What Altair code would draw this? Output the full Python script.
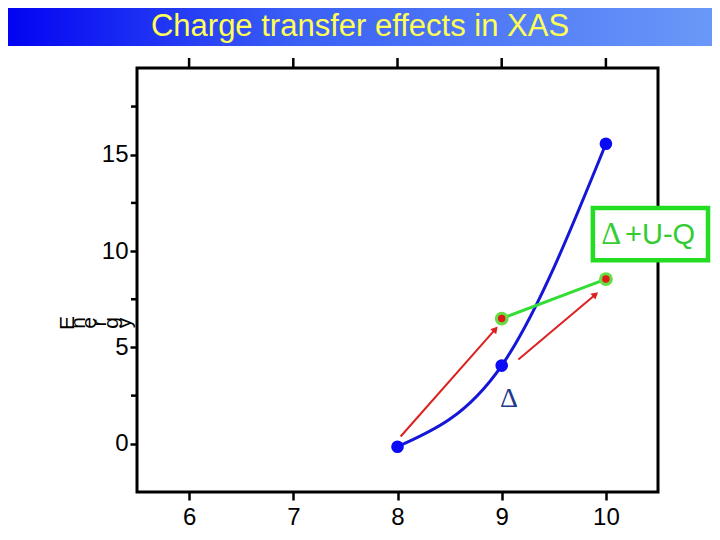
import altair as alt
import pandas as pd

# ---- data ----
blue_x = [8, 9, 10]
blue_y = [-0.15, 4.06, 15.57]

green_x = [9, 10]
green_y = [6.5, 8.55]

arrow_x1 = [8.03, 9.16]
arrow_y1 = [0.38, 4.38]
arrow_x2 = [8.94, 9.90]
arrow_y2 = [5.95, 7.75]
arrow_angle = [41, 50]

x_ticks = [6, 7, 8, 9, 10]
y_ticks = [0, 5, 10, 15]
y_minor = [2.5, 7.5, 12.5, 17.5]

box_x = [9.875]
box_x2 = [10.98]
box_y = [12.24]
box_y2 = [9.53]
box_delta = ["\u0394"]
box_delta_x = [10.05]
box_label = ["+U-Q"]
box_text_x = [10.52]
box_text_y = [10.85]

delta_x = [9.07]
delta_y = [2.3]
delta_label = ["\u0394"]

title_text = "Charge transfer effects in XAS"
ylabel_letters = ["E", "n", "e", "r", "g", "y"]
ylabel_px = [-69, -58, -47, -37, -25, -12]

W, H = 521, 424
XDOM = [5.5, 10.5]
YDOM = [-2.5, 19.5]
FONT = "Liberation Sans"
SERIF = "Liberation Serif"

blue_df = pd.DataFrame({"x": blue_x, "y": blue_y})
green_df = pd.DataFrame({"x": green_x, "y": green_y})
arrow_df = pd.DataFrame({"x1": arrow_x1, "y1": arrow_y1, "x2": arrow_x2,
                         "y2": arrow_y2, "ang": arrow_angle})
box_df = pd.DataFrame({"x": box_x, "x2": box_x2, "y": box_y, "y2": box_y2,
                       "tx": box_text_x, "ty": box_text_y, "t": box_label,
                       "dx": box_delta_x, "d": box_delta})
delta_df = pd.DataFrame({"x": delta_x, "y": delta_y, "t": delta_label})
xt_df = pd.DataFrame({"x": x_ticks})
ym_df = pd.DataFrame({"y": y_minor})
one = pd.DataFrame({"a": [0]})

xs = alt.Scale(domain=XDOM, nice=False, zero=False)
ys = alt.Scale(domain=YDOM, nice=False, zero=False)

x_axis = alt.Axis(values=x_ticks, format="d", title=None, grid=False, domain=False,
                  tickSize=8, tickWidth=2.5, tickColor="black",
                  labelFontSize=24, labelFont=FONT, labelColor="black",
                  labelPadding=5)
y_axis = alt.Axis(values=y_ticks, format="d", title=None, grid=False, domain=False,
                  tickSize=7, tickWidth=2.5, tickColor="black",
                  labelFontSize=24, labelFont=FONT, labelColor="black",
                  labelPadding=2)

base = alt.Chart(blue_df)

blue_line = base.mark_line(color="#1616d8", strokeWidth=3,
                           interpolate="monotone").encode(
    x=alt.X("x:Q", scale=xs, axis=x_axis),
    y=alt.Y("y:Q", scale=ys, axis=y_axis),
)
blue_pts = base.mark_circle(color="#0a0af5", size=160, opacity=1).encode(
    x="x:Q", y="y:Q")

green_line = alt.Chart(green_df).mark_line(color="#33dd33", strokeWidth=3).encode(
    x="x:Q", y="y:Q")
green_outer = alt.Chart(green_df).mark_circle(color="#66dd44", size=190,
                                              opacity=1).encode(x="x:Q", y="y:Q")
green_inner = alt.Chart(green_df).mark_circle(color="#e01818", size=55,
                                              opacity=1).encode(x="x:Q", y="y:Q")

arrow_lines = alt.Chart(arrow_df).mark_rule(color="#dd2020", strokeWidth=2).encode(
    x="x1:Q", y="y1:Q", x2="x2:Q", y2="y2:Q")
arrow_heads = alt.Chart(arrow_df).mark_point(shape="triangle-up", filled=True,
                                             color="#dd2020", size=60,
                                             opacity=1).encode(
    x=alt.X("x2:Q"), y=alt.Y("y2:Q"), angle=alt.Angle("ang:Q", scale=None))

top_ticks = alt.Chart(xt_df).mark_rule(color="black", strokeWidth=2.5).encode(
    x="x:Q", y=alt.value(-10), y2=alt.value(0))
left_minor = alt.Chart(ym_df).mark_rule(color="black", strokeWidth=2.5).encode(
    y="y:Q", x=alt.value(-6), x2=alt.value(0))

box = alt.Chart(box_df).mark_rect(fill="white", stroke="#22dd22",
                                  strokeWidth=4.5).encode(
    x="x:Q", x2="x2:Q", y="y:Q", y2="y2:Q")
box_text = alt.Chart(box_df).mark_text(color="#33cc33", fontSize=29, font=FONT,
                                       align="center", baseline="middle").encode(
    x="tx:Q", y="ty:Q", text="t:N")
box_delta_mark = alt.Chart(box_df).mark_text(color="#33cc33", fontSize=31,
                                             font=SERIF, align="center",
                                             baseline="middle").encode(
    x="dx:Q", y="ty:Q", text="d:N")

delta_text = alt.Chart(delta_df).mark_text(color="#1f3b8c", fontSize=28,
                                           font=SERIF, align="center",
                                           baseline="middle").encode(
    x="x:Q", y="y:Q", text="t:N")

title_bar = alt.Chart(one).mark_rect(
    fill=alt.LinearGradient(gradient="linear",
                            stops=[alt.GradientStop(color="#0000f2", offset=0),
                                   alt.GradientStop(color="#3a5ff5", offset=0.4),
                                   alt.GradientStop(color="#6c9cf8", offset=1)],
                            x1=0, x2=1, y1=0, y2=0)
).encode(x=alt.value(-140), x2=alt.value(600), y=alt.value(-70), y2=alt.value(-22))

title_mark = alt.Chart(one).mark_text(
    text=title_text, color="#ffff55", fontSize=31, font=FONT,
    align="center", baseline="middle"
).encode(x=alt.value(223), y=alt.value(-41))

letters = []
for ch, px in zip(ylabel_letters, ylabel_px):
    letters.append(alt.Chart(one).mark_text(
        text=ch, color="black", fontSize=21, font=FONT, angle=270,
        align="center", baseline="middle"
    ).encode(x=alt.value(px), y=alt.value(255)))

chart = alt.layer(
    title_bar, title_mark, top_ticks, left_minor,
    blue_line, green_line, arrow_lines, arrow_heads,
    blue_pts, green_outer, green_inner,
    box, box_text, box_delta_mark, delta_text, *letters
).properties(
    width=W, height=H,
    autosize=alt.AutoSizeParams(type="none"),
    padding={"left": 129, "top": 60, "right": 54, "bottom": 40},
    background="white",
).configure_view(stroke="black", strokeWidth=3)

chart.save("out.html", embed_options={"renderer": "svg", "actions": False})
